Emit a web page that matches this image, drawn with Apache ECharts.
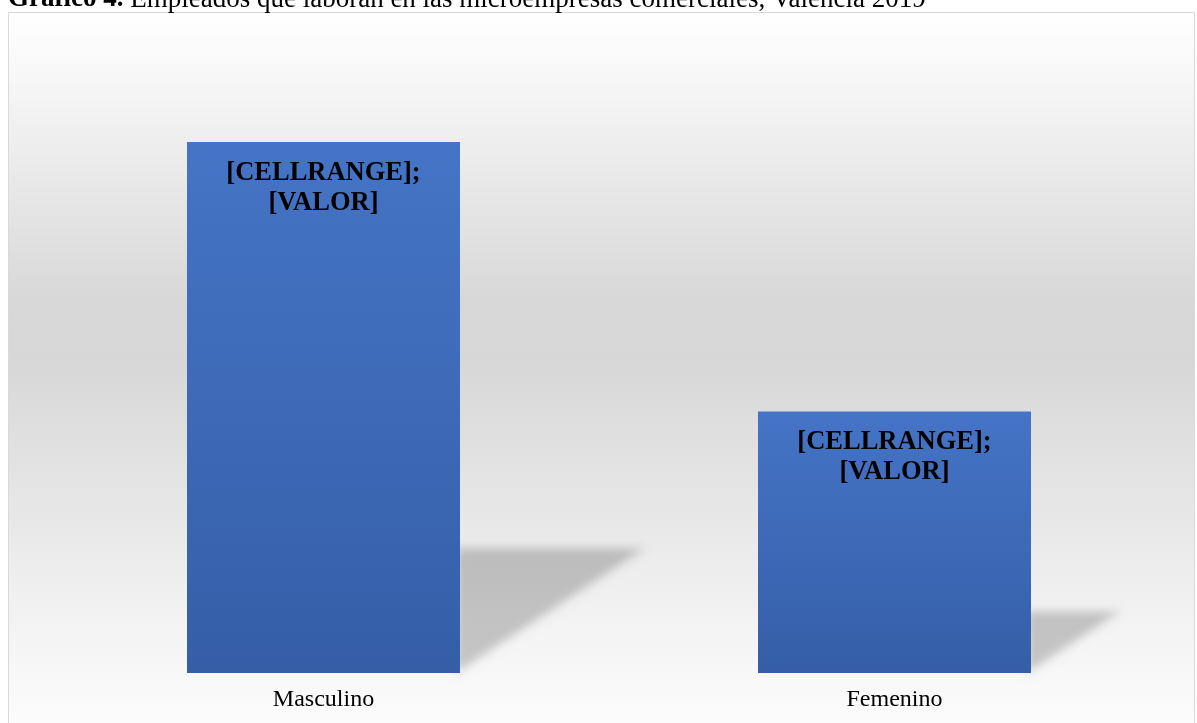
<!DOCTYPE html>
<html>
<head>
<meta charset="utf-8">
<script src="https://cdn.jsdelivr.net/npm/echarts@6/dist/echarts.min.js"></script>
<style>
html,body{margin:0;padding:0;background:#fff;}
#chart{width:1197px;height:723px;}
</style>
</head>
<body>
<div id="chart"></div>
<script>
const categories = ['Masculino', 'Femenino'];
const values = [67, 33];
const barLabelText = '[CELLRANGE];\n[VALOR]';
const titleBold = 'Gráfico 4.';
const titleRest = ' Empleados que laboran en las microempresas comerciales, Valencia 2019';

const chart = echarts.init(document.getElementById('chart'));
const BAR_W = 273;
const serif = '"Liberation Serif", "Times New Roman", serif';

const option = {
  animation: false,
  backgroundColor: '#ffffff',
  graphic: [{
    type: 'rect',
    z: -10,
    silent: true,
    shape: { x: 8.5, y: 12.5, width: 1186, height: 720 },
    style: {
      fill: new echarts.graphic.LinearGradient(0, 0, 0, 1, [
        { offset: 0, color: '#ffffff' },
        { offset: 0.03, color: '#fdfdfd' },
        { offset: 0.40, color: '#d8d8d8' },
        { offset: 0.48, color: '#d7d7d7' },
        { offset: 0.85, color: '#f3f3f3' },
        { offset: 1, color: '#fdfdfd' }
      ]),
      stroke: '#d9d9d9',
      lineWidth: 1
    }
  }],
  title: {
    left: 8,
    top: -14,
    padding: 0,
    text: '{b|' + titleBold + '}{n|' + titleRest + '}',
    textStyle: {
      rich: {
        b: { fontFamily: serif, fontWeight: 'bold', fontSize: 27, color: '#000' },
        n: { fontFamily: serif, fontWeight: 'normal', fontSize: 27, color: '#000' }
      }
    }
  },
  grid: { left: 38, right: 17, top: 39, bottom: 50 },
  xAxis: {
    type: 'category',
    data: categories,
    axisLine: { show: false },
    axisTick: { show: false },
    axisLabel: { fontFamily: serif, fontSize: 24, color: '#000', margin: 15 }
  },
  yAxis: {
    type: 'value',
    min: 0,
    max: 80,
    show: false,
    splitLine: { show: false }
  },
  series: [
    {
      type: 'custom',
      z: 1,
      silent: true,
      data: values.map((v, i) => [i, v]),
      renderItem: function (params, api) {
        const i = api.value(0), v = api.value(1);
        const base = api.coord([i, 0]);
        const top = api.coord([i, v]);
        const h = base[1] - top[1];
        const rx = base[0] + BAR_W / 2 - 4;
        const off = 3000;
        const sy = base[1] - 0.235 * h;
        return {
          type: 'polygon',
          shape: { points: [[rx - off, sy], [rx + 0.355 * h - off, sy], [rx - off, base[1]]] },
          style: {
            fill: '#000',
            shadowColor: 'rgba(0,0,0,0.2)',
            shadowBlur: 10,
            shadowOffsetX: off,
            shadowOffsetY: 0
          }
        };
      }
    },
    {
      type: 'bar',
      z: 3,
      data: values,
      barWidth: BAR_W,
      itemStyle: {
        color: new echarts.graphic.LinearGradient(0, 0, 0, 1, [
          { offset: 0, color: '#4574c6' },
          { offset: 1, color: '#355ea7' }
        ])
      },
      label: {
        show: true,
        position: 'insideTop',
        distance: 16,
        formatter: barLabelText,
        fontFamily: serif,
        fontWeight: 'bold',
        fontSize: 26.5,
        lineHeight: 30,
        color: '#000'
      }
    }
  ]
};
chart.setOption(option);
</script>
</body>
</html>
